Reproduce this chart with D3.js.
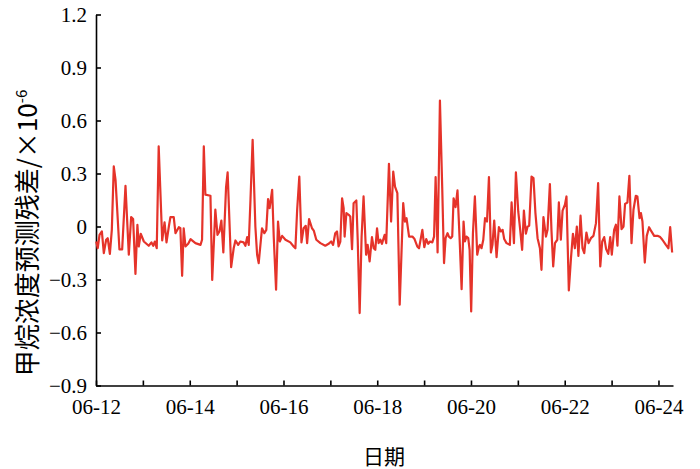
<!DOCTYPE html>
<meta charset="utf-8">
<script src="https://d3js.org/d3.v7.min.js"></script>
<body style="margin:0;background:#fff">
<div id="chart"></div>
</body>
<style>
.axis path, .axis line { stroke: #000; stroke-width: 1.6px; }
.axis text { font-family: "Liberation Serif", "Times New Roman", serif; font-size: 21px; fill: #000; }
.title { font-family: "Noto Sans CJK SC", sans-serif; font-size: 21px; fill: #000; }
</style>
<script>

// hours after 06-12 00:00
var hours = [0.1, 0.9, 1.8, 3.0, 4.0, 5.2, 6.0, 7.1, 8.1, 9.1, 10.0, 12.0, 13.4, 15.1, 16.8, 18.0, 19.0, 20.2, 21.2, 21.9,
  22.9, 24.5, 27.0, 28.4, 29.3, 30.1, 31.1, 32.1, 33.9, 35.1, 36.1, 37.3, 38.1, 39.8, 40.7, 42.4, 43.2, 44.1, 44.9, 45.8,
  47.2, 48.4, 50.9, 53.5, 54.3, 55.2, 56.0, 58.6, 59.5, 61.1, 62.2, 63.2, 64.2, 65.2, 66.6, 67.4, 69.2, 70.5, 71.4, 72.8,
  73.9, 75.6, 76.5, 77.4, 78.2, 79.1, 80.2, 81.6, 82.5, 83.3, 85.0, 86.2, 87.2, 88.1, 88.9, 90.2, 91.0, 92.2, 93.2, 94.1,
  95.3, 97.0, 99.5, 101.2, 102.1, 103.0, 104.1, 105.2, 106.3, 107.4, 108.1, 109.1, 110.6, 111.5, 112.8, 114.9, 117.4, 119.1, 120.4, 121.4,
  122.5, 123.4, 124.2, 125.1, 126.0, 126.8, 127.3, 128.2, 129.4, 130.2, 131.1, 131.9, 133.3, 134.0, 135.0, 136.0, 137.0, 138.3, 139.1, 140.1,
  141.3, 142.2, 143.0, 143.9, 144.7, 145.6, 146.4, 147.8, 148.6, 150.0, 151.1, 152.2, 153.1, 154.3, 155.5, 157.3, 158.2, 159.0, 160.3, 162.0,
  163.1, 164.5, 165.4, 167.1, 168.1, 169.1, 170.1, 171.0, 172.2, 173.1, 173.9, 174.9, 176.1, 177.3, 178.2, 179.0, 180.0, 180.7, 181.6, 182.4,
  183.1, 184.1, 185.1, 186.2, 187.2, 188.2, 188.9, 189.7, 190.6, 191.3, 192.1, 193.0, 194.0, 195.2, 196.1, 196.6, 197.4, 198.3, 199.2, 200.2,
  201.2, 202.2, 203.0, 203.9, 205.1, 206.3, 207.3, 208.2, 209.0, 210.2, 211.9, 212.8, 214.0, 215.0, 216.2, 217.2, 218.2, 219.1, 220.1, 221.0,
  221.8, 223.0, 224.0, 225.0, 226.1, 227.3, 228.1, 229.1, 230.4, 231.2, 232.4, 233.2, 234.1, 235.0, 236.2, 237.0, 238.0, 238.9, 240.1, 240.9,
  242.1, 243.2, 244.2, 245.2, 246.2, 247.0, 248.1, 249.1, 250.0, 251.1, 252.2, 253.4, 254.7, 256.0, 257.1, 258.2, 259.2, 260.2, 261.2, 262.3,
  263.3, 264.1, 265.3, 266.2, 267.0, 268.0, 269.1, 270.1, 270.9, 272.1, 273.1, 274.2, 275.2, 276.4, 277.2, 278.3, 279.0, 279.8, 281.0, 282.0,
  283.2, 284.4, 285.8, 287.5, 288.9, 290.0, 291.8, 293.1, 294.0, 295.0];

// methane prediction residual, x10^-6
var residual = [-0.085, -0.123, -0.047, -0.028, -0.151, -0.075, -0.066, -0.155, -0.019, 0.34, 0.264, -0.13, -0.13, 0.23, -0.16, 0.053, 0.042, -0.268, 0.01, -0.113,
  -0.041, -0.085, -0.109, -0.09, -0.109, -0.085, -0.123, 0.453, -0.079, 0.023, -0.09, 0.0, 0.053, 0.053, -0.038, -0.004, -0.01, -0.279, -0.01, -0.113,
  -0.098, -0.072, -0.094, -0.104, -0.075, 0.453, 0.18, 0.174, -0.302, 0.095, -0.047, -0.028, 0.034, -0.147, 0.223, 0.306, -0.23, -0.123, -0.079, -0.104,
  -0.085, -0.09, -0.109, -0.06, -0.104, 0.151, 0.491, 0.0, -0.16, -0.207, -0.01, -0.038, -0.019, 0.155, 0.104, 0.208, -0.057, -0.358, 0.028, -0.085,
  -0.053, -0.075, -0.09, -0.113, -0.123, 0.095, 0.283, -0.09, -0.01, 0.004, -0.094, 0.042, -0.01, -0.023, -0.075, -0.094, -0.109, -0.098, -0.085, -0.104,
  -0.038, -0.028, -0.113, -0.085, 0.16, 0.104, -0.057, 0.076, 0.066, 0.057, -0.128, 0.132, 0.147, -0.075, -0.49, -0.057, 0.17, -0.16, -0.104, -0.198,
  -0.06, -0.123, -0.132, -0.01, -0.094, -0.075, -0.098, -0.047, -0.094, 0.355, 0.028, 0.311, 0.226, 0.189, -0.443, 0.132, 0.028, 0.047, -0.057, -0.057,
  -0.071, -0.113, -0.123, -0.019, -0.117, -0.071, -0.098, -0.085, -0.09, -0.057, 0.28, -0.147, 0.713, 0.208, -0.207, -0.066, -0.038, -0.057, -0.066, -0.057,
  0.16, 0.11, 0.204, -0.075, -0.355, 0.028, -0.085, -0.057, -0.066, -0.132, -0.481, -0.038, 0.17, -0.16, -0.113, -0.104, -0.123, -0.075, 0.047, 0.028,
  0.28, -0.147, -0.104, 0.034, -0.173, -0.004, -0.028, -0.019, -0.071, -0.094, -0.104, 0.136, -0.094, 0.306, 0.085, -0.019, -0.132, 0.09, -0.041, 0.0,
  0.004, 0.283, 0.274, 0.076, -0.066, -0.123, -0.245, 0.053, -0.057, -0.019, 0.24, -0.019, -0.226, -0.094, -0.075, 0.136, -0.075, 0.09, 0.123, 0.17,
  -0.362, -0.179, -0.041, -0.123, 0.0, -0.166, 0.061, -0.123, -0.151, -0.034, -0.094, -0.066, -0.053, 0.019, 0.245, -0.226, -0.085, -0.06, -0.128, -0.155,
  -0.06, -0.16, -0.019, 0.01, -0.109, 0.17, -0.015, 0.0, 0.128, 0.136, 0.287, -0.094, 0.095, 0.174, 0.17, 0.047, 0.076, 0.028, -0.204, -0.053,
  -0.004, -0.028, -0.053, -0.053, -0.06, -0.075, -0.104, -0.123, -0.004, -0.147];

var yTicks = [-0.9, -0.6, -0.3, 0, 0.3, 0.6, 0.9, 1.2];
var yTickLabels = ["\u22120.9", "\u22120.6", "\u22120.3", "0", "0.3", "0.6", "0.9", "1.2"];

var t0 = new Date(2020, 5, 12);
var tEnd = new Date(t0.getTime() + 12.31 * 24 * 3600e3);

var width = 700, height = 469;
var svg = d3.select("#chart").append("svg")
  .attr("width", width)
  .attr("height", height);

var x = d3.scaleTime().domain([t0, tEnd]).range([96, 673]);
var y = d3.scaleLinear().domain([-0.9, 1.2]).range([385.5, 14.5]);

var data = hours.map(function(h, i) {
  return { t: new Date(t0.getTime() + h * 3600e3), v: residual[i] };
});

// x axis: a tick each day, label every second day
var fmt = d3.timeFormat("%m-%d");
svg.append("g")
  .attr("class", "axis")
  .attr("transform", "translate(0,385.5)")
  .call(d3.axisBottom(x)
    .ticks(d3.timeDay.every(1))
    .tickSizeInner(-5)
    .tickSizeOuter(0)
    .tickPadding(14)
    .tickFormat(function(d) { return d.getDate() % 2 == 0 ? fmt(d) : ""; }));

// y axis
svg.append("g")
  .attr("class", "axis")
  .attr("transform", "translate(96,0)")
  .call(d3.axisLeft(y)
    .tickValues(yTicks)
    .tickSizeInner(-5)
    .tickSizeOuter(0)
    .tickPadding(9)
    .tickFormat(function(d, i) { return yTickLabels[i]; }));

// residual line
svg.append("path")
  .datum(data)
  .attr("fill", "none")
  .attr("stroke", "#e5332a")
  .attr("stroke-width", 2.2)
  .attr("stroke-linejoin", "round")
  .attr("d", d3.line()
    .x(function(d) { return x(d.t); })
    .y(function(d) { return y(d.v); }));

// titles
svg.append("text")
  .attr("class", "title")
  .attr("x", 384)
  .attr("y", 464)
  .attr("text-anchor", "middle")
  .text("日期");

var yt = svg.append("text")
  .attr("class", "title")
  .attr("transform", "translate(37,233) rotate(-90)")
  .attr("text-anchor", "middle")
  .style("font-size", "26px");
yt.append("tspan").text("甲烷浓度预测残差/×10");
yt.append("tspan")
  .attr("dy", -10)
  .style("font-size", "15px")
  .text("-6");

</script>
